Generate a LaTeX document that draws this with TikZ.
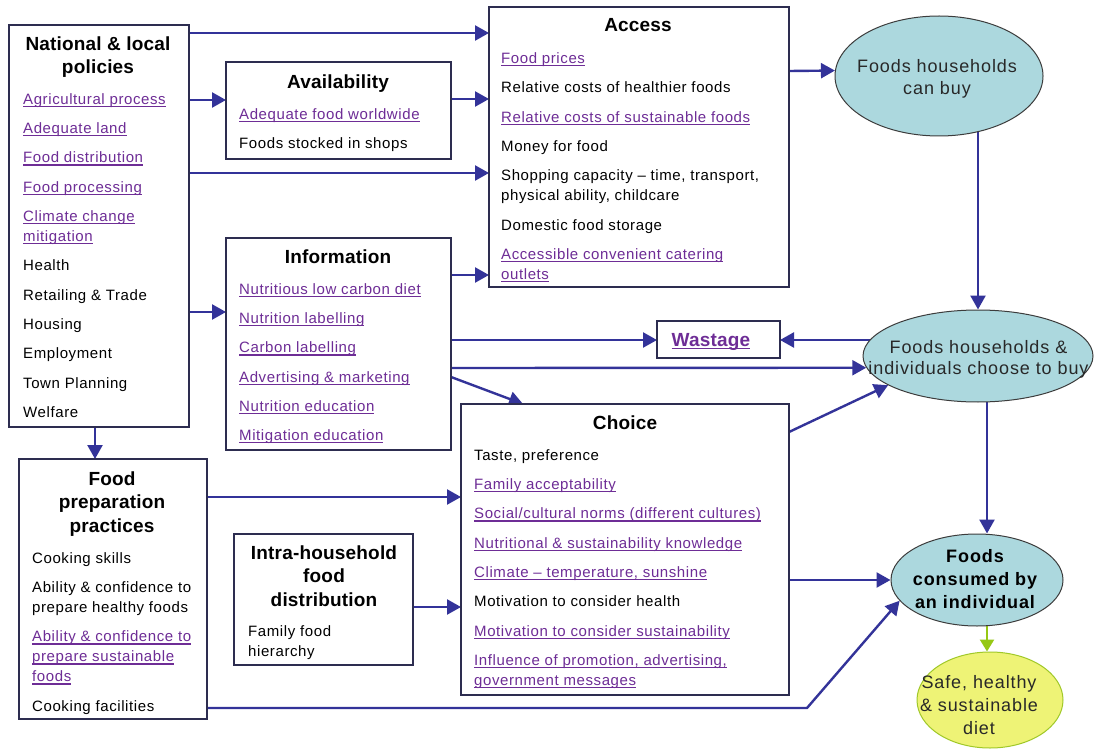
\documentclass[tikz,border=0pt]{standalone}
\usepackage{fontspec}
\usetikzlibrary{arrows.meta,shapes.geometric}
\setmainfont{Liberation Sans}
\newfontfamily\bodyface{Liberation Sans}[LetterSpace=4]
\newfontfamily\headface{Liberation Sans}[LetterSpace=1]
\newfontfamily\ovalface{Liberation Sans}[LetterSpace=5]
\newcommand\txtbody{\bodyface\fontsize{15pt}{20pt}\selectfont}
\newcommand\txthead{\headface\bfseries\fontsize{19pt}{23.5pt}\selectfont}
\newcommand\txtoval{\ovalface\fontsize{18pt}{22.5pt}\selectfont}
\definecolor{boxc}{RGB}{45,45,80}
\definecolor{arrc}{RGB}{51,51,153}
\definecolor{linkc}{RGB}{110,45,150}
\definecolor{tealc}{RGB}{172,216,222}
\definecolor{yelc}{RGB}{238,243,118}
\definecolor{yelb}{RGB}{160,200,40}
\definecolor{grnc}{RGB}{150,200,20}
\definecolor{ellb}{RGB}{60,60,60}
\definecolor{ovtext}{RGB}{40,40,40}
% underline at a fixed depth below the baseline
\newsavebox\undlbox
\newcommand\undl[1]{\sbox\undlbox{#1}\rlap{\rule[-2.6pt]{\wd\undlbox}{1.1pt}}\usebox\undlbox}
\newcommand\lnk[1]{\textcolor{linkc}{\undl{#1}}}
\newcommand\nxt{\\[9.3pt]}
\pgfdeclarelayer{background}
\pgfsetlayers{background,main}
\begin{document}
\begin{tikzpicture}[x=1pt,y=-1pt,
  box/.style={draw=boxc, line width=1.4pt, fill=white, anchor=north west,
    inner sep=0pt, outer sep=0pt},
  oval/.style={ellipse, draw=ellb, line width=1pt, fill=tealc, inner sep=0pt},
  items/.style={anchor=north west, align=left, inner sep=0pt, font=\txtbody},
  head/.style={anchor=north, align=center, inner sep=0pt, font=\txthead},
  ovaltext/.style={anchor=north, align=center, inner sep=0pt, font=\txtoval, text=ovtext},
  arr/.style={draw=arrc, line width=2.4pt, -{Triangle[length=14pt,width=15pt]}},
  arrg/.style={draw=grnc, line width=2.4pt, -{Triangle[length=12pt,width=14pt]}}]

\begin{pgfonlayer}{background}
  \fill[white] (0,0) rectangle (1094,751);
\end{pgfonlayer}
\useasboundingbox (0,0) rectangle (1094,751);

% ---------- boxes ----------
\node[box, minimum width=180pt, minimum height=402pt] (pol)    at (9,25)   {};
\node[box, minimum width=225pt, minimum height=97pt]  (avail)  at (226,62) {};
\node[box, minimum width=300pt, minimum height=280pt] (acc)    at (489,7)  {};
\node[box, minimum width=225pt, minimum height=212pt] (info)   at (226,238) {};
\node[box, minimum width=188pt, minimum height=260pt] (prep)   at (19,459) {};
\node[box, minimum width=179pt, minimum height=131pt] (intra)  at (234,534) {};
\node[box, minimum width=328pt, minimum height=291pt] (choice) at (461,404) {};
\node[box, minimum width=123pt, minimum height=37pt]  (waste)  at (657,321) {};

% ---------- ovals ----------
\node[oval, minimum width=208pt, minimum height=120pt] (buy)    at (939,76)  {};
\node[oval, minimum width=230pt, minimum height=92pt]  (choose) at (978,356) {};
\node[oval, minimum width=172pt, minimum height=92pt]  (cons)   at (977,580) {};
\node[oval, minimum width=146pt, minimum height=96pt, fill=yelc, draw=yelb] (safe) at (990,700) {};

% ---------- headings ----------
\node[head] (pol-h)    at (98,36.4)   {National \& local\\policies};
\node[head] (avail-h)  at (338,74.4)  {Availability};
\node[head] (acc-h)    at (638,18.4)  {Access};
\node[head] (info-h)   at (338,249.4) {Information};
\node[head] (prep-h)   at (112,471.4) {Food\\preparation\\practices};
\node[head] (intra-h)  at (324,545.4) {Intra-household\\food\\distribution};
\node[head] (choice-h) at (625,415.4) {Choice};
\node[head, text=linkc] (waste-h) at (711,333.4) {\undl{Wastage}};

% ---------- box contents ----------
\node[items] (pol-i) at (23,93.3) {\lnk{Agricultural process}\nxt
  \lnk{Adequate land}\nxt
  \lnk{Food distribution}\nxt
  \lnk{Food processing}\nxt
  \lnk{Climate change}\\\lnk{mitigation}\nxt
  Health\nxt
  Retailing \& Trade\nxt
  Housing\nxt
  Employment\nxt
  Town Planning\nxt
  Welfare};

\node[items] (avail-i) at (239,108.5) {\lnk{Adequate food worldwide}\nxt
  Foods stocked in shops};

\node[items] (acc-i) at (501,52.6) {\lnk{Food prices}\nxt
  Relative costs of healthier foods\nxt
  \lnk{Relative costs of sustainable foods}\nxt
  Money for food\nxt
  Shopping capacity – time, transport,\\physical ability, childcare\nxt
  Domestic food storage\nxt
  \lnk{Accessible convenient catering}\\\lnk{outlets}};

\node[items] (info-i) at (239,283.3) {\lnk{Nutritious low carbon diet}\nxt
  \lnk{Nutrition labelling}\nxt
  \lnk{Carbon labelling}\nxt
  \lnk{Advertising \& marketing}\nxt
  \lnk{Nutrition education}\nxt
  \lnk{Mitigation education}};

\node[items] (prep-i) at (32,552.3) {Cooking skills\nxt
  Ability \& confidence to\\prepare healthy foods\nxt
  \lnk{Ability \& confidence to}\\\lnk{prepare sustainable}\\\lnk{foods}\nxt
  Cooking facilities};

\node[items] (intra-i) at (248,625.3) {Family food\\hierarchy};

\node[items] (choice-i) at (474,449.3) {Taste, preference\nxt
  \lnk{Family acceptability}\nxt
  \lnk{Social/cultural norms (different cultures)}\nxt
  \lnk{Nutritional \& sustainability knowledge}\nxt
  \lnk{Climate – temperature, sunshine}\nxt
  Motivation to consider health\nxt
  \lnk{Motivation to consider sustainability}\nxt
  \lnk{Influence of promotion, advertising,}\\\lnk{government messages}};

% ---------- oval labels ----------
\node[ovaltext] (buy-t)    at (937,59)    {Foods households\\can buy};
\node[ovaltext, font=\ovalface\fontsize{18pt}{21pt}\selectfont] (choose-t) at (978.5,340.3) {Foods households \&\\individuals choose to buy};
\node[ovaltext, font=\ovalface\bfseries\fontsize{18pt}{23pt}\selectfont, text=black] (cons-t) at (975,549.7) {Foods\\consumed by\\an individual};
\node[ovaltext, font=\ovalface\fontsize{18pt}{23pt}\selectfont] (safe-t) at (979,675.3) {Safe, healthy\\\& sustainable\\diet};

\coordinate (bend) at (807,708);

% ---------- connectors ----------
\begin{pgfonlayer}{background}
\draw[arr] (pol.east |- 0,33)  -- (acc.west |- 0,33);
\draw[arr] (pol.east |- 0,100) -- (avail.west |- 0,100);
\draw[arr] (avail.east |- 0,99) -- (acc.west |- 0,99);
\draw[arr] (pol.east |- 0,173) -- (acc.west |- 0,173);
\draw[arr] (info.east |- 0,275) -- (acc.west |- 0,275);
\draw[arr] (pol.east |- 0,312) -- (info.west |- 0,312);
\draw[arr] (acc.east |- 0,71) -- (buy.177);
\draw[arr] (choose.north |- buy.center) -- (choose.north);
\draw[arr] (info.east |- 0,340) -- (waste.west |- 0,340);
\draw[arr] (choose.center |- 0,340) -- (waste.east |- 0,340);
\draw[arr] (info.east |- 0,368) -- (choose.186);
\draw[arr] (info.east |- 0,377) -- (choice.north -| 523,0);
\draw[arr] (choice.east |- 0,432) -- (choose.198);
\draw[arr] (choose.center -| 987,0) -- (cons.north -| 987,0);
\draw[arr] (choice.east |- 0,580) -- (cons.west);
\draw[arr] (prep.east |- 0,708) -- (bend) -- (cons.195);
\draw[arr] (prep.east |- 0,497) -- (choice.west |- 0,497);
\draw[arr] (intra.east |- 0,607) -- (choice.west |- 0,607);
\draw[arr] (pol.south -| 95,0) -- (prep.north -| 95,0);
\draw[arrg] (cons.center -| 987,0) -- (safe.north -| 987,0);
\end{pgfonlayer}
\end{tikzpicture}
\end{document}
